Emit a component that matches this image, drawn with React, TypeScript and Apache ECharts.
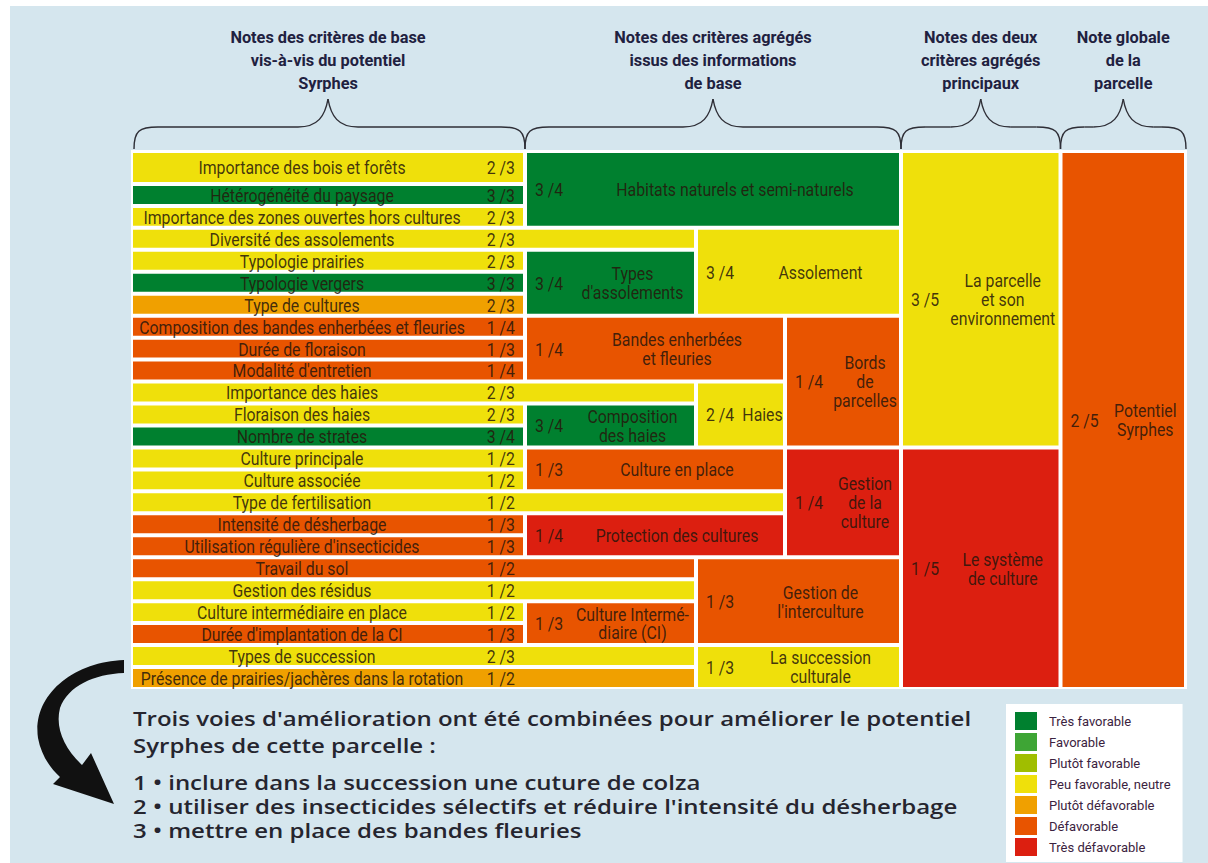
import React, { useEffect, useRef } from "react";
import * as echarts from "echarts";

// ---------- data ----------
const classNames = [
  "Très favorable",
  "Favorable",
  "Plutôt favorable",
  "Peu favorable, neutre",
  "Plutôt défavorable",
  "Défavorable",
  "Très défavorable",
];
const classColors = ["#00802f", "#3ea535", "#a0be00", "#efe00b", "#f0a000", "#e85400", "#dc1f10"];

const baseLabels = [
  "Importance des bois et forêts",
  "Hétérogénéité du paysage",
  "Importance des zones ouvertes hors cultures",
  "Diversité des assolements",
  "Typologie prairies",
  "Typologie vergers",
  "Type de cultures",
  "Composition des bandes enherbées et fleuries",
  "Durée de floraison",
  "Modalité d'entretien",
  "Importance des haies",
  "Floraison des haies",
  "Nombre de strates",
  "Culture principale",
  "Culture associée",
  "Type de fertilisation",
  "Intensité de désherbage",
  "Utilisation régulière d'insecticides",
  "Travail du sol",
  "Gestion des résidus",
  "Culture intermédiaire en place",
  "Durée d'implantation de la CI",
  "Types de succession",
  "Présence de prairies/jachères dans la rotation",
];
const baseScores = [
  "2 /3", "3 /3", "2 /3", "2 /3", "2 /3", "3 /3", "2 /3", "1 /4", "1 /3", "1 /4", "2 /3", "2 /3",
  "3 /4", "1 /2", "1 /2", "1 /2", "1 /3", "1 /3", "1 /2", "1 /2", "1 /2", "1 /3", "2 /3", "1 /2",
];
const baseClasses = [3, 0, 3, 3, 3, 0, 4, 5, 5, 5, 3, 3, 0, 3, 3, 3, 5, 5, 5, 3, 3, 5, 3, 4];
// last column level reached by each base criterion (it passes directly to the next level)
const baseColEnd = [1, 1, 1, 2, 1, 1, 1, 1, 1, 1, 2, 1, 1, 1, 1, 3, 1, 1, 2, 2, 1, 1, 2, 2];

const aggLabels = [
  "Habitats naturels et semi-naturels",
  "Types\nd'assolements",
  "Assolement",
  "Bandes enherbées\net fleuries",
  "Bords\nde\nparcelles",
  "Composition\ndes haies",
  "Haies",
  "Culture en place",
  "Protection des cultures",
  "Gestion\nde la\nculture",
  "Culture Intermé-\ndiaire (CI)",
  "Gestion de\nl'interculture",
  "La succession\nculturale",
  "La parcelle\net son\nenvironnement",
  "Le système\nde culture",
  "Potentiel\nSyrphes",
];
const aggScores = ["3 /4", "3 /4", "3 /4", "1 /4", "1 /4", "3 /4", "2 /4", "1 /3", "1 /4", "1 /4", "1 /3", "1 /3", "1 /3", "3 /5", "1 /5", "2 /5"];
const aggClasses = [0, 0, 3, 5, 5, 0, 3, 5, 6, 6, 5, 5, 3, 3, 6, 5];
const aggColSpans = [
  [1, 4], [1, 2], [2, 4], [1, 3], [3, 4], [1, 2], [2, 3], [1, 3], [1, 3], [3, 4], [1, 2], [2, 4], [2, 4], [4, 5], [4, 5], [5, 6],
];
const aggRowSpans = [
  [0, 2], [4, 6], [3, 6], [7, 9], [7, 12], [11, 12], [10, 12], [13, 14], [16, 17], [13, 17], [20, 21], [18, 21], [22, 23], [0, 12], [13, 23], [0, 23],
];

const headerTitles = [
  "Notes des critères de base\nvis-à-vis du potentiel\nSyrphes",
  "Notes des critères agrégés\nissus des informations\nde base",
  "Notes des deux\ncritères agrégés\nprincipaux",
  "Note globale\nde la\nparcelle",
];
const headerColSpans = [[0, 1], [1, 4], [4, 5], [5, 6]];

const noteLines = [
  "Trois voies d'amélioration ont été combinées pour améliorer le potentiel",
  "Syrphes de cette parcelle :",
];
const actionLines = [
  "1 • inclure dans la succession une cuture de colza",
  "2 • utiliser des insecticides sélectifs et réduire l'intensité du désherbage",
  "3 • mettre en place des bandes fleuries",
];

// ---------- layout ----------
const COL_EDGES = [0, 394, 565, 654, 770, 929.5, 1055];
const ROW_WEIGHTS = baseLabels.map((_, i) => (i === 0 ? 1.5 : 1));
const ROW_EDGES: number[] = [0];
ROW_WEIGHTS.forEach((w, i) => ROW_EDGES.push(ROW_EDGES[i] + w));
const X_MAX = COL_EDGES[COL_EDGES.length - 1];
const Y_MAX = ROW_EDGES[ROW_EDGES.length - 1];
const GRID = { left: 131, top: 151, width: 1055, height: 538 };

const CELL_FONT = "Roboto, 'Noto Sans', sans-serif";
const CELL_SX = 0.88;
const TEXT_FILL = "rgba(38,22,12,0.86)";

type Item = { kind: "base" | "agg"; label: string; score: string; value: number[] };

function buildItems(): Item[][] {
  const per: Item[][] = classNames.map(() => []);
  baseLabels.forEach((label, i) => {
    per[baseClasses[i]].push({
      kind: "base",
      label,
      score: baseScores[i],
      value: [COL_EDGES[0], ROW_EDGES[i], COL_EDGES[baseColEnd[i]], ROW_EDGES[i + 1]],
    });
  });
  aggLabels.forEach((label, i) => {
    const [c0, c1] = aggColSpans[i];
    const [r0, r1] = aggRowSpans[i];
    per[aggClasses[i]].push({
      kind: "agg",
      label,
      score: aggScores[i],
      value: [COL_EDGES[c0], ROW_EDGES[r0], COL_EDGES[c1], ROW_EDGES[r1 + 1]],
    });
  });
  return per;
}

function txt(text: string, x: number, y: number, align: string) {
  return {
    type: "text",
    x,
    y,
    scaleX: CELL_SX,
    style: {
      text,
      x: 0,
      y: 0,
      align,
      textAlign: align,
      verticalAlign: "middle",
      textVerticalAlign: "middle",
      fontFamily: CELL_FONT,
      fontSize: 18,
      lineHeight: 19,
      fill: TEXT_FILL,
    },
  };
}

const ARROW_PATH =
  "M124 660 C72 662 32 696 38 738 C41 754 49 767 60 777 L53 784 L114 804 L91 753 L82 765 C64 748 55 728 60 708 C68 686 94 674 124 673 Z";

export default function App() {
  const ref = useRef<HTMLDivElement>(null);
  useEffect(() => {
    document.body.style.margin = "0";
    echarts.graphic.registerShape("arrowShape", echarts.graphic.extendPath(ARROW_PATH, {}) as any);
    const chart = echarts.init(ref.current!, null, { renderer: "svg" });
    const perClass = buildItems();

    const series = classNames.map((name, k) => {
      const items = perClass[k];
      return {
        type: "custom",
        name,
        coordinateSystem: "cartesian2d",
        itemStyle: { color: classColors[k] },
        encode: { x: [0, 2], y: [1, 3] },
        data: items.map((it) => ({ value: it.value })),
        renderItem: (params: any, api: any) => {
          const it = items[params.dataIndex];
          const p0 = api.coord([api.value(0), api.value(1)]);
          const p1 = api.coord([api.value(2), api.value(3)]);
          const x0 = p0[0] + 2;
          const y0 = p0[1] + 2;
          const x1 = p1[0] - 2;
          const y1 = p1[1] - 2;
          const cy = (y0 + y1) / 2 + 0.5;
          const children: any[] = [
            { type: "rect", shape: { x: x0, y: y0, width: x1 - x0, height: y1 - y0 }, style: { fill: classColors[k] } },
          ];
          if (it.kind === "base") {
            const colRight = api.coord([COL_EDGES[1], 0])[0] - 2;
            children.push(txt(it.label, (x0 + colRight - 52) / 2, cy, "center"));
            children.push(txt(it.score, colRight - 8, cy, "right"));
          } else {
            children.push(txt(it.score, x0 + 8, cy, "left"));
            children.push(txt(it.label, (x0 + 44 + x1) / 2, cy, "center"));
          }
          return { type: "group", children };
        },
      };
    });

    chart.setOption({
      animation: false,
      grid: { ...GRID, containLabel: false },
      xAxis: { type: "value", min: 0, max: X_MAX, show: false },
      yAxis: { type: "value", min: 0, max: Y_MAX, inverse: true, show: false },
      legend: {
        orient: "vertical",
        left: 1006,
        top: 704,
        backgroundColor: "#ffffff",
        padding: [8, 12, 6, 9],
        itemWidth: 22,
        itemHeight: 18,
        itemGap: 3,
        icon: "rect",
        selectedMode: false,
        textStyle: { fontFamily: CELL_FONT, fontSize: 13, color: "#3b2340", padding: [0, 0, 0, 7] },
        data: classNames.map((n, i) => ({ name: n, itemStyle: { color: classColors[i] } })),
      },
      series,
    });

    const px = (v: number) => chart.convertToPixel({ xAxisIndex: 0 }, v) as number;
    const gTop = GRID.top;
    const gBottom = GRID.top + GRID.height;

    const graphics: any[] = [
      { type: "rect", z: 0, silent: true, shape: { x: 10, y: 6, width: 1198, height: 857 }, style: { fill: "#d5e6ee" } },
      {
        type: "rect",
        z: 1,
        silent: true,
        shape: { x: px(0), y: gTop - 1, width: px(X_MAX) - px(0) + 1, height: gBottom - gTop + 1 },
        style: { fill: "#ffffff" },
      },
    ];

    const braceStyle = { stroke: "#2e2e36", lineWidth: 1.4, fill: "none" };
    headerColSpans.forEach(([c0, c1], i) => {
      const xa = px(COL_EDGES[c0]) + (i === 0 ? 3 : 0);
      const xb = px(COL_EDGES[c1]);
      const tx = (px(COL_EDGES[c0]) + xb) / 2;
      const yb = 149;
      const ym = 127;
      const yt = 99;
      graphics.push(
        { type: "bezierCurve", z: 5, shape: { x1: xa, y1: yb, cpx1: xa, cpy1: 131, cpx2: xa + 5, cpy2: ym, x2: xa + 24, y2: ym }, style: braceStyle },
        { type: "line", z: 5, shape: { x1: xa + 24, y1: ym, x2: tx - 30, y2: ym }, style: braceStyle },
        { type: "bezierCurve", z: 5, shape: { x1: tx - 30, y1: ym, cpx1: tx - 10, cpy1: ym, cpx2: tx - 3, cpy2: 116, x2: tx, y2: yt }, style: braceStyle },
        { type: "bezierCurve", z: 5, shape: { x1: tx, y1: yt, cpx1: tx + 3, cpy1: 116, cpx2: tx + 10, cpy2: ym, x2: tx + 30, y2: ym }, style: braceStyle },
        { type: "line", z: 5, shape: { x1: tx + 30, y1: ym, x2: xb - 24, y2: ym }, style: braceStyle },
        { type: "bezierCurve", z: 5, shape: { x1: xb - 24, y1: ym, cpx1: xb - 5, cpy1: ym, cpx2: xb, cpy2: 131, x2: xb, y2: yb }, style: braceStyle }
      );
      graphics.push({
        type: "text",
        z: 5,
        x: tx,
        y: 26,
        scaleX: 0.96,
        style: {
          text: headerTitles[i],
          x: 0,
          y: 0,
          align: "center",
          textAlign: "center",
          verticalAlign: "top",
          textVerticalAlign: "top",
          fontFamily: CELL_FONT,
          fontWeight: "bold",
          fontSize: 17,
          lineHeight: 23,
          fill: "#1f2140",
        },
      });
    });

    const bodyFont = "'Open Sans', 'Noto Sans', sans-serif";
    const bodyLine = (t: string, y: number) => ({
      type: "text",
      z: 5,
      x: 133,
      y,
      scaleX: 1.2,
      style: {
        text: t,
        x: 0,
        y: 0,
        verticalAlign: "middle",
        textVerticalAlign: "middle",
        fontFamily: bodyFont,
        fontWeight: 600,
        fontSize: 20,
        lineHeight: 21,
        fill: "#25252f",
      },
    });
    noteLines.forEach((t, i) => graphics.push(bodyLine(t, 718 + i * 27)));
    actionLines.forEach((t, i) => graphics.push(bodyLine(t, 782 + i * 24)));
    graphics.push({ type: "arrowShape", z: 5, x: 0, y: 0, style: { fill: "#111111" } });

    chart.setOption({ graphic: { elements: graphics } });

    return () => chart.dispose();
  }, []);
  return <div ref={ref} style={{ width: 1208, height: 863 }} />;
}
